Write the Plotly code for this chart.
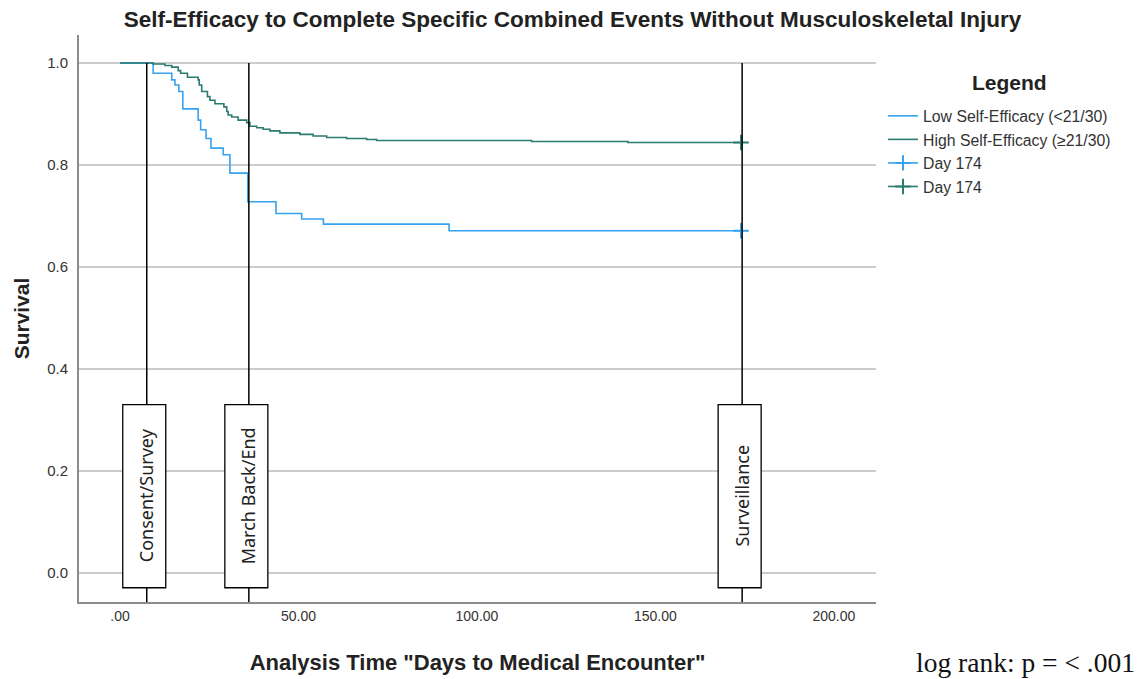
import plotly.graph_objects as go

# ---------------- data ----------------
low_days = [0, 9.3, 14.5, 15.4, 16.5, 17.6, 21.9, 22.6, 24.1, 25.5, 28.9, 30.8, 35.8,
            43.7, 50.9, 57.0, 92.2, 174]
low_surv = [1.0, 0.980, 0.967, 0.957, 0.944, 0.910, 0.888, 0.869, 0.852, 0.833, 0.820,
            0.784, 0.728, 0.705, 0.694, 0.684, 0.671, 0.671]

high_days = [0, 9.3, 12.6, 14.5, 16.3, 17.0, 18.9, 21.9, 22.2, 22.9, 24.5, 25.2, 26.6,
             29.1, 29.9, 30.3, 31.3, 33.1, 35.5, 36.4, 38.3, 40.1, 42.0, 44.8, 50.4,
             54.1, 57.9, 63.5, 69.1, 71.9, 115.3, 142.3, 174]
high_surv = [1.0, 0.998, 0.995, 0.992, 0.985, 0.980, 0.972, 0.967, 0.957, 0.944, 0.934,
             0.927, 0.920, 0.914, 0.905, 0.898, 0.894, 0.888, 0.883, 0.876, 0.873, 0.870,
             0.867, 0.863, 0.860, 0.857, 0.854, 0.852, 0.850, 0.848, 0.846, 0.844, 0.844]

censor_day = 174
low_censor = 0.671
high_censor = 0.844

event_days = [7.5, 36.1, 174.3]
event_labels = ["Consent/Survey", "March Back/End", "Surveillance"]

x_ticks = [0, 50, 100, 150, 200]
x_ticklabels = [".00", "50.00", "100.00", "150.00", "200.00"]
y_ticks = [0.0, 0.2, 0.4, 0.6, 0.8, 1.0]
y_ticklabels = ["0.0", "0.2", "0.4", "0.6", "0.8", "1.0"]

LOW_COLOR = "#36a2f0"
HIGH_COLOR = "#2b7b70"

fig = go.Figure()

fig.add_trace(go.Scatter(x=low_days, y=low_surv, mode="lines", line_shape="hv",
                         line=dict(color=LOW_COLOR, width=1.6),
                         name="Low Self-Efficacy (<21/30)"))
fig.add_trace(go.Scatter(x=high_days, y=high_surv, mode="lines", line_shape="hv",
                         line=dict(color=HIGH_COLOR, width=1.6),
                         name="High Self-Efficacy (≥21/30)"))
fig.add_trace(go.Scatter(x=[censor_day], y=[low_censor], mode="lines+markers",
                         line=dict(color=LOW_COLOR, width=1.6),
                         marker=dict(symbol="cross-thin", size=11,
                                     line=dict(color=LOW_COLOR, width=2)),
                         name="Day 174"))
fig.add_trace(go.Scatter(x=[censor_day], y=[high_censor], mode="lines+markers",
                         line=dict(color=HIGH_COLOR, width=1.6),
                         marker=dict(symbol="cross-thin", size=11,
                                     line=dict(color=HIGH_COLOR, width=2)),
                         name="Day 174"))

Y_BOT = -0.0569
Y_TOP = 1.0549

for d, lab in zip(event_days, event_labels):
    fig.add_shape(type="line", x0=d, x1=d, y0=Y_BOT, y1=1.0, xref="x", yref="y",
                  line=dict(color="black", width=1.5), layer="above")
    fig.add_shape(type="rect", xref="x", yref="y", xsizemode="pixel", xanchor=d,
                  x0=-24, x1=19, y0=-0.029, y1=0.330,
                  fillcolor="white", line=dict(color="black", width=1.3), layer="above")
    fig.add_annotation(x=d, y=0.152, xref="x", yref="y", text=lab, textangle=-90,
                       showarrow=False, font=dict(family="Noto Sans", size=18, color="#222"))

fig.update_layout(
    width=1135, height=671,
    margin=dict(l=71, r=267, t=27, b=77, autoexpand=False),
    paper_bgcolor="white", plot_bgcolor="white",
    title=dict(text="<b>Self-Efficacy to Complete Specific Combined Events Without Musculoskeletal Injury</b>",
               x=564.5 / 1135, xanchor="center", y=1 - 11 / 671, yanchor="middle",
               font=dict(family="Liberation Sans", size=22.5, color="#222")),
    font=dict(family="Liberation Sans", color="#333"),
    showlegend=True,
    legend=dict(x=1.0088, y=0.887, xanchor="left", yanchor="top",
                font=dict(family="Liberation Sans", size=15.8, color="#333"),
                bgcolor="rgba(0,0,0,0)", tracegroupgap=0),
    xaxis=dict(range=[-11.48, 211.8], tickvals=x_ticks, ticktext=x_ticklabels,
               showgrid=False, zeroline=False, showline=True, linecolor="#8c8c8c",
               linewidth=2, ticks="", tickfont=dict(size=14, color="#333"),
               automargin=False,
               title=dict(text="<b>Analysis Time \"Days to Medical Encounter\"</b>",
                          font=dict(size=22, color="#222"), standoff=32)),
    yaxis=dict(range=[Y_BOT, Y_TOP], tickvals=y_ticks, ticktext=y_ticklabels,
               showgrid=True, gridcolor="#cccccc", gridwidth=1.5, zeroline=False,
               showline=True, linecolor="#8c8c8c", linewidth=2, ticks="",
               ticklabelstandoff=6, automargin=False,
               tickfont=dict(size=15, color="#333"),
               title=dict(text="<b>Survival</b>", font=dict(size=21, color="#222"), standoff=12)),
)

fig.add_annotation(x=(1002 - 71) / 797, y=1 - (74 - 27) / 567, xref="paper", yref="paper",
                   xanchor="center", yanchor="middle", text="<b>Legend</b>", showarrow=False,
                   font=dict(family="Liberation Sans", size=21, color="#222"))

fig.add_annotation(x=(1129 - 71) / 797, y=-(654 - 594) / 567, xref="paper", yref="paper",
                   xanchor="right", yanchor="middle",
                   text="log rank: p = < .001", showarrow=False,
                   font=dict(family="Liberation Serif", size=27.5, color="#111"))

fig.write_html("out.html")
